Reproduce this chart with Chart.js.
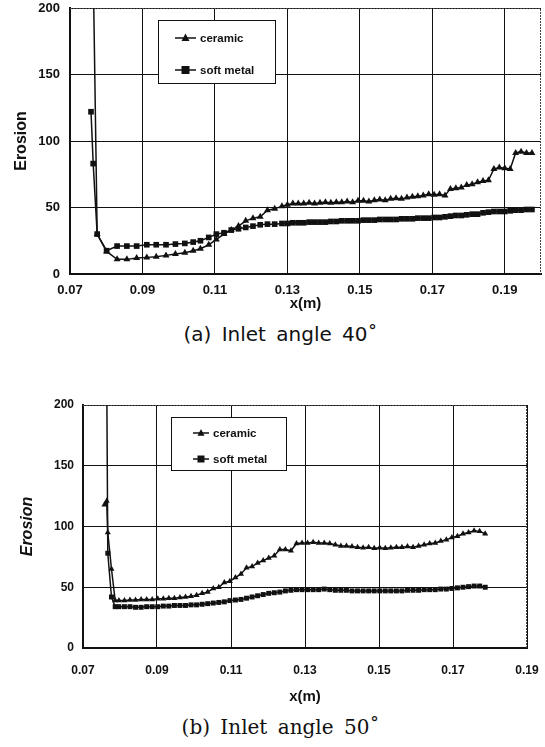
<!DOCTYPE html>
<html>
<head>
<meta charset="utf-8">
<title>Erosion vs x</title>
<script src="https://cdn.jsdelivr.net/npm/chart.js@4/dist/chart.umd.min.js"></script>
<style>
  html, body { margin: 0; padding: 0; background: #fff; }
  body { width: 545px; height: 747px; position: relative; overflow: hidden; }
  canvas { position: absolute; left: 0; }
  #chartA { top: 0; }
  #chartB { top: 395px; }
  .caption { position: absolute; left: 8px; width: 545px; text-align: center; color: #111; white-space: nowrap; }
  #captionA { top: 322px; font: 20px "DejaVu Sans", sans-serif; word-spacing: 4px; }
  #captionB { top: 715px; font: 20px "DejaVu Serif", serif; word-spacing: 4px; }
</style>
</head>
<body>
<canvas id="chartA" width="545" height="311"></canvas>
<div class="caption" id="captionA">(a) Inlet angle 40˚</div>
<canvas id="chartB" width="545" height="309"></canvas>
<div class="caption" id="captionB">(b) Inlet angle 50˚</div>

<script>
// tick labels
const xTicks = [0.07, 0.09, 0.11, 0.13, 0.15, 0.17, 0.19];
const yTicks = [0, 50, 100, 150, 200];
const seriesNames = ["ceramic", "soft metal"];

// (a) inlet angle 40  (null = no point; 230 runs off the top of the plot)
const xA = [
  0.0758, 0.0764, 0.0775, 0.0801, 0.0830, 0.0857, 0.0884, 0.0912, 0.0938, 0.0965,
  0.0991, 0.1017, 0.1040, 0.1060, 0.1083, 0.1104, 0.1125, 0.1145, 0.1165, 0.1185,
  0.1205, 0.1225, 0.1245, 0.1265, 0.1285, 0.1300, 0.1315, 0.1330, 0.1345, 0.1360,
  0.1375, 0.1390, 0.1405, 0.1420, 0.1435, 0.1450, 0.1465, 0.1480, 0.1495, 0.1510,
  0.1525, 0.1540, 0.1555, 0.1570, 0.1585, 0.1600, 0.1615, 0.1630, 0.1645, 0.1660,
  0.1675, 0.1690, 0.1705, 0.1720, 0.1735, 0.1750, 0.1765, 0.1780, 0.1795, 0.1810,
  0.1825, 0.1840, 0.1855, 0.1870, 0.1885, 0.1900, 0.1915, 0.1930, 0.1945, 0.1960,
  0.1975
];
const ceramicA = [
  null, 230, 30, 17, 11, 11, 12, 12.5, 13, 14,
  15, 16, 17.5, 19, 22, 26, 30, 33, 36, 40,
  42, 43, 48, 49, 51, 52, 53, 53, 53, 53.5,
  53, 53.5, 54, 53.5, 54, 54, 54.5, 54, 55, 55,
  54.5, 55.5, 56, 55.5, 56.5, 57, 56.5, 57.5, 58, 58.5,
  59, 60, 59.5, 60, 59, 64, 64.5, 65, 67, 67.5,
  69, 70, 70.5, 79, 80, 79.5, 79, 91, 92, 91,
  91
];
const softMetalA = [
  122, 83, 30, 17.5, 21, 21, 21, 22, 22, 22,
  22.5, 23, 24, 25, 27.5, 30, 31, 33, 34, 35,
  36, 37, 37.5, 37.5, 38, 38, 38.5, 38.5, 38.5, 39,
  39, 39, 39, 39.5, 39.5, 40, 40, 40, 40, 40.5,
  40.5, 40.5, 41, 41, 41, 41, 41.5, 41.5, 41.5, 42,
  42, 42, 42.5, 42.5, 43, 43.5, 44, 44, 44.5, 45,
  45, 46, 46.5, 47, 47, 47, 47.5, 48, 48, 48.5,
  48.5
];

// (b) inlet angle 50
const xB = [
  0.0758, 0.0764, 0.0767, 0.0777, 0.0787, 0.0797, 0.0812, 0.0827, 0.0842, 0.0857,
  0.0872, 0.0887, 0.0902, 0.0917, 0.0932, 0.0947, 0.0962, 0.0977, 0.0992, 0.1007,
  0.1022, 0.1037, 0.1052, 0.1067, 0.1082, 0.1097, 0.1112, 0.1127, 0.1142, 0.1157,
  0.1172, 0.1187, 0.1202, 0.1217, 0.1232, 0.1247, 0.1262, 0.1277, 0.1292, 0.1307,
  0.1322, 0.1337, 0.1352, 0.1367, 0.1382, 0.1397, 0.1412, 0.1427, 0.1442, 0.1457,
  0.1472, 0.1487, 0.1502, 0.1517, 0.1532, 0.1547, 0.1562, 0.1577, 0.1592, 0.1607,
  0.1622, 0.1637, 0.1652, 0.1667, 0.1682, 0.1697, 0.1712, 0.1727, 0.1742, 0.1757,
  0.1772, 0.1787
];
const ceramicB = [
  118, 121, 95, 65, 39, 39, 39, 39.5, 39.5, 40,
  40, 40, 40.5, 40.5, 41, 41, 41.5, 42, 42.5, 43.5,
  45, 46, 49, 50, 54, 55, 58, 61, 66, 67,
  70, 72, 74, 76, 81, 81, 80, 86, 86.5, 86.5,
  87, 86.5, 86.5, 86, 85, 84, 84, 83.5, 83, 82.5,
  83, 82, 82.5, 82, 82.5, 83, 83, 83.5, 83, 84,
  85, 86, 86.5, 88, 89, 91, 92, 94, 95, 96.5,
  96, 94
];
const softMetalB = [
  null, 230, 78, 42, 34, 34, 34, 34, 33.5, 33.5,
  34, 34, 34, 34.5, 34.5, 35, 35, 35, 35.5, 35.5,
  36, 36.5, 37, 37.5, 38, 39, 39.5, 40, 41, 42,
  43, 44, 45, 45.5, 46, 47, 47.5, 48, 48, 48,
  48, 48, 48.5, 48, 47.5, 47.5, 47.5, 47, 47, 47,
  47, 47, 47, 47, 47, 47, 47, 47.5, 47.5, 47.5,
  48, 48, 48, 48.5, 48.5, 49, 49.5, 50, 50.5, 51,
  51, 50
];

(function () {
  "use strict";

  const INK = "#111";
  const SANS = "'Liberation Sans', Arial, sans-serif";

  function toPoints(xs, ys) {
    return xs.map((x, i) => ({ x, y: ys[i] }));
  }

  function drawMarker(ctx, style, x, y, r) {
    ctx.beginPath();
    if (style === "triangle") {
      ctx.moveTo(x, y - r * 1.15);
      ctx.lineTo(x + r, y + r * 0.75);
      ctx.lineTo(x - r, y + r * 0.75);
      ctx.closePath();
    } else {
      ctx.rect(x - r, y - r, r * 2, r * 2);
    }
    ctx.fill();
  }

  // boxed legend sitting inside the plot, like the original
  const boxLegend = {
    id: "boxLegend",
    afterDatasetsDraw(chart, args, opts) {
      const ctx = chart.ctx;
      ctx.save();
      ctx.fillStyle = "#fff";
      ctx.fillRect(opts.left, opts.top, opts.width, opts.height);
      ctx.strokeStyle = INK;
      ctx.lineWidth = 1;
      ctx.strokeRect(opts.left + 0.5, opts.top + 0.5, opts.width, opts.height);
      ctx.font = opts.font;
      ctx.textBaseline = "middle";
      chart.data.datasets.forEach((ds, i) => {
        const y = opts.top + opts.rows[i];
        const x0 = opts.left + opts.lineStart;
        ctx.strokeStyle = INK;
        ctx.lineWidth = 1.5;
        ctx.beginPath();
        ctx.moveTo(x0, y);
        ctx.lineTo(x0 + opts.lineLen, y);
        ctx.stroke();
        ctx.fillStyle = INK;
        drawMarker(ctx, ds.pointStyle, x0 + opts.lineLen / 2, y, ds.pointRadius);
        ctx.fillText(ds.label, x0 + opts.lineLen + opts.textGap, y + 1);
      });
      ctx.restore();
    }
  };

  // top and right edges of the plot (dotted in the scan)
  const plotFrame = {
    id: "plotFrame",
    beforeDatasetsDraw(chart) {
      const { ctx, chartArea } = chart;
      ctx.save();
      ctx.strokeStyle = "#444";
      ctx.lineWidth = 1;
      ctx.setLineDash([2, 1]);
      ctx.beginPath();
      ctx.moveTo(chartArea.left, chartArea.top + 0.5);
      ctx.lineTo(chartArea.right - 0.5, chartArea.top + 0.5);
      ctx.lineTo(chartArea.right - 0.5, chartArea.bottom);
      ctx.stroke();
      ctx.restore();
    }
  };

  function makeChart(canvasId, cfg) {
    const datasets = [
      {
        label: seriesNames[0],
        data: toPoints(cfg.xs, cfg.ceramic),
        pointStyle: "triangle",
        pointRadius: cfg.markerSize,
        borderColor: INK,
        backgroundColor: INK,
        pointBackgroundColor: INK,
        pointBorderColor: INK,
        pointBorderWidth: 0,
        borderWidth: 1.5,
        tension: 0
      },
      {
        label: seriesNames[1],
        data: toPoints(cfg.xs, cfg.softMetal),
        pointStyle: "rect",
        pointRadius: cfg.markerSize,
        borderColor: INK,
        backgroundColor: INK,
        pointBackgroundColor: INK,
        pointBorderColor: INK,
        pointBorderWidth: 0,
        borderWidth: 1.5,
        tension: 0
      }
    ];

    return new Chart(document.getElementById(canvasId), {
      type: "line",
      data: { datasets },
      plugins: [plotFrame, boxLegend],
      options: {
        responsive: false,
        animation: false,
        events: [],
        layout: { padding: { top: cfg.padTop, right: cfg.padRight, left: 0, bottom: 0 } },
        plugins: {
          legend: { display: false },
          tooltip: { enabled: false },
          boxLegend: cfg.legend
        },
        scales: {
          x: {
            type: "linear",
            min: 0.07,
            max: cfg.xMax,
            afterBuildTicks: (scale) => {
              scale.ticks = xTicks.filter((v) => v <= cfg.xMax).map((v) => ({ value: v }));
            },
            afterFit: (scale) => {
              scale.height = cfg.xAxisHeight;
              scale.paddingLeft = 0;
              scale.paddingRight = 0;
            },
            grid: { color: INK, lineWidth: 1, drawTicks: false },
            border: { color: INK, width: 2 },
            ticks: {
              color: INK,
              font: { family: SANS, size: cfg.tickSize, weight: "bold" },
              padding: cfg.xTickPad,
              maxRotation: 0,
              autoSkip: false,
              callback: (v) => Number(v).toFixed(2)
            },
            title: {
              display: true,
              text: "x(m)",
              color: INK,
              font: { family: SANS, size: 15, weight: "bold", lineHeight: 1 },
              padding: { top: 0, bottom: 0 }
            }
          },
          y: {
            min: 0,
            max: 200,
            afterBuildTicks: (scale) => {
              scale.ticks = yTicks.map((v) => ({ value: v }));
            },
            afterFit: (scale) => {
              scale.width = cfg.yAxisWidth;
              scale.paddingTop = 0;
              scale.paddingBottom = 0;
            },
            grid: { color: INK, lineWidth: 1, drawTicks: false },
            border: { color: INK, width: 2 },
            ticks: {
              color: INK,
              font: { family: SANS, size: cfg.tickSize, weight: "bold" },
              padding: cfg.yTickPad
            },
            title: {
              display: true,
              text: "Erosion",
              color: INK,
              font: { family: SANS, size: cfg.yTitleSize, weight: "bold", style: cfg.yTitleStyle, lineHeight: 1 },
              padding: { top: cfg.yTitlePad, bottom: 0 }
            }
          }
        }
      }
    });
  }

  makeChart("chartA", {
    xs: xA,
    ceramic: ceramicA,
    softMetal: softMetalA,
    xMax: 0.2,
    padTop: 8,
    padRight: 1,
    xAxisHeight: 37,
    yAxisWidth: 70,
    xTickPad: 9,
    yTickPad: 10,
    tickSize: 13,
    yTitleSize: 16,
    yTitleStyle: "normal",
    yTitlePad: 14,
    markerSize: 4,
    legend: {
      left: 158, top: 20, width: 117, height: 63,
      rows: [18, 50], lineStart: 17, lineLen: 21, textGap: 4,
      font: "bold 11.5px " + SANS
    }
  });

  makeChart("chartB", {
    xs: xB,
    ceramic: ceramicB,
    softMetal: softMetalB,
    xMax: 0.19,
    padTop: 10,
    padRight: 18,
    xAxisHeight: 56,
    yAxisWidth: 83,
    xTickPad: 15,
    yTickPad: 9,
    tickSize: 12,
    yTitleSize: 16,
    yTitleStyle: "italic",
    yTitlePad: 20,
    markerSize: 3.5,
    legend: {
      left: 171, top: 22, width: 115, height: 53,
      rows: [16, 42], lineStart: 22, lineLen: 16, textGap: 4,
      font: "bold 11.5px " + SANS
    }
  });
})();
</script>
</body>
</html>
